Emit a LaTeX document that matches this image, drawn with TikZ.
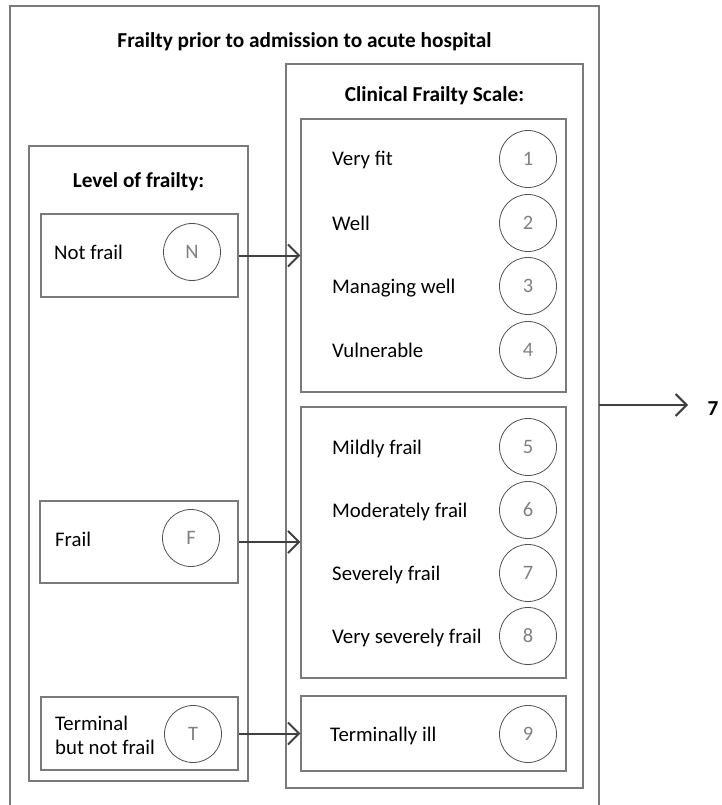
\documentclass[tikz,border=0pt]{standalone}
\usepackage{fontspec}
\setmainfont{Carlito}
\usetikzlibrary{arrows.meta}
\definecolor{boxgray}{HTML}{7A7A7A}
\definecolor{circgray}{HTML}{505050}
\definecolor{numgray}{HTML}{808080}
\definecolor{arrgray}{HTML}{404040}
\tikzset{
  frame/.style={draw=boxgray, line width=1.2pt, inner sep=0pt, rectangle},
  numc/.style={circle, draw=circgray, line width=0.8pt, minimum size=57pt, inner sep=0pt, text=numgray, font=\fontsize{20.5}{24}\selectfont},
  lbl/.style={anchor=base west, font=\fontsize{20.8}{24}\selectfont, inner sep=0pt},
  hdr/.style={anchor=base, font=\bfseries\fontsize{21.3}{25}\selectfont, inner sep=0pt},
  arr/.style={draw=arrgray, line width=2pt, -{Straight Barb[length=11pt,width=22pt,line width=2pt]}}
}
\begin{document}
\begin{tikzpicture}[x=1pt, y=-1pt]
\useasboundingbox (0,0) rectangle (721,805);
% outer frame (open at the bottom)
\draw[draw=boxgray, line width=1.2pt] (10,805) -- (10,6) -- (599,6) -- (599,805);
\node[hdr] (title) at (304.5,48) {Frailty prior to admission to acute hospital};

% level of frailty column
\node[frame, minimum width=219pt, minimum height=635pt] (lev) at (138.5,463.5) {};
\node[hdr] (levt) at (138.5,187) {Level of frailty:};
\node[frame, minimum width=197pt, minimum height=83pt] (nf) at (139.5,255.5) {};
\node[frame, minimum width=198pt, minimum height=82pt] (fr) at (139,542) {};
\node[frame, minimum width=197pt, minimum height=73pt] (tm) at (139.5,733.5) {};
\node[lbl] (nft) at (54,259) {Not frail};
\node[lbl] (frt) at (55,546) {Frail};
\node[lbl] (tmt1) at (55,730) {Terminal};
\node[lbl] (tmt2) at (55,754) {but not frail};
\node[numc] (cN) at (192,252) {N};
\node[numc] (cF) at (191,538) {F};
\node[numc] (cT) at (193,734) {T};

% clinical frailty scale column
\node[frame, minimum width=297pt, minimum height=724pt] (cfs) at (434.5,426) {};
\node[hdr] (cfst) at (434.5,102) {Clinical Frailty Scale:};
\node[frame, minimum width=265pt, minimum height=273pt] (b1) at (433.5,255.5) {};
\node[frame, minimum width=265pt, minimum height=271pt] (b2) at (433.5,542.5) {};
\node[frame, minimum width=265pt, minimum height=75pt] (b3) at (433.5,733.5) {};

\node[lbl] (l1) at (332,166) {Very fit};
\node[lbl] (l2) at (332,230) {Well};
\node[lbl] (l3) at (332,293) {Managing well};
\node[lbl] (l4) at (332,357) {Vulnerable};
\node[lbl] (l5) at (332,454) {Mildly frail};
\node[lbl] (l6) at (332,517) {Moderately frail};
\node[lbl] (l7) at (332,580) {Severely frail};
\node[lbl] (l8) at (332,643) {Very severely frail};
\node[lbl] (l9) at (330,741) {Terminally ill};

\node[numc] (c1) at (528,159) {1};
\node[numc] (c2) at (528,223) {2};
\node[numc] (c3) at (528,286) {3};
\node[numc] (c4) at (528,350) {4};
\node[numc] (c5) at (528,447) {5};
\node[numc] (c6) at (528,510) {6};
\node[numc] (c7) at (528,573) {7};
\node[numc] (c8) at (528,636) {8};
\node[numc] (c9) at (528,734) {9};

% connectors
\draw[arr] (nf.east) -- (nf.east -| b1.west);
\draw[arr] (fr.east) -- (fr.east -| b2.west);
\draw[arr] (tm.east) -- (tm.east -| b3.west);

\coordinate (outR) at (599,405);
\coordinate (outEnd) at (688,405);
\draw[arr] (outR) -- (outEnd);
\node[hdr] (seven) at (713,415) {7};
\end{tikzpicture}
\end{document}
